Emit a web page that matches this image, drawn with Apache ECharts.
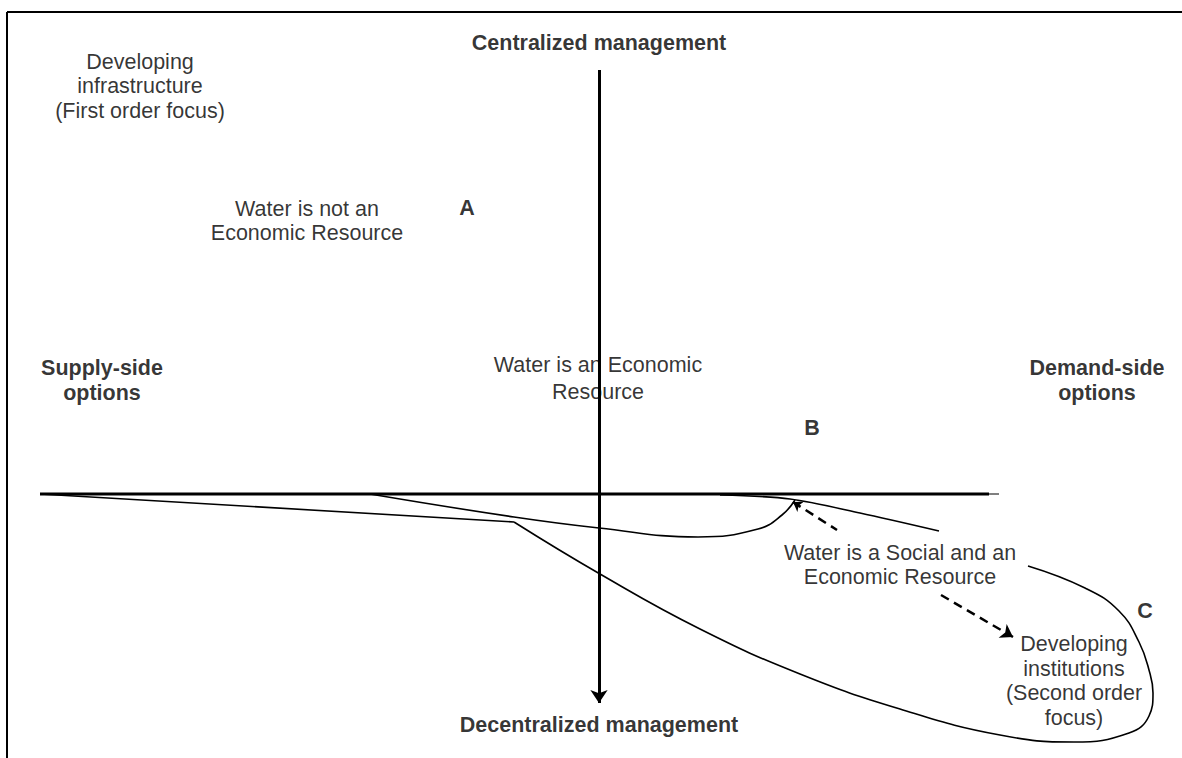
<!DOCTYPE html>
<html>
<head>
<meta charset="utf-8">
<style>
  html, body { margin: 0; padding: 0; background: #fff; }
  #chart { width: 1182px; height: 758px; }
</style>
<script src="https://cdn.jsdelivr.net/npm/echarts@6/dist/echarts.min.js"></script>
</head>
<body>
<div id="chart"></div>
<script>
// diagram drawn on a pixel-like value grid (x 0..1182, y 0..758 top-down)
var frameTop = [[7, 12], [1182, 12]];
var frameLeft = [[7, 12], [7, 758]];
var hAxisThick = [[40, 494], [989, 494]];
var hAxisThin = [[40, 494], [999, 494]];
var vAxis = [[599, 70], [599, 703]];
var straightArm = [[40, 494], [514, 522]];
var loopB = [[370, 494], [514, 517], [599, 528], [698, 537], [758, 529], [782, 515], [795, 500]];
// loop C is broken where the text sits
var loopCLower = [[514, 522], [600, 574], [700, 629], [800, 674], [900, 709], [1000, 735], [1074, 742],
  [1129, 733], [1149, 716], [1153, 693], [1149, 670], [1139, 642], [1119, 611], [1085, 588], [1028, 566]];
var loopCUpper = [[939, 531], [860, 513], [790, 499], [720, 495]];
// dashed arrow, also broken by the text
var dashHead = [[793, 502], [837, 530]];
var dashTail = [[941, 595], [1013, 637]];

// plain labels
var plainTexts = [
  "Developing\ninfrastructure\n(First order focus)",
  "Water is not an\nEconomic Resource",
  "Developing\ninstitutions\n(Second order\nfocus)",
  "Water is a Social and an\nEconomic Resource"
];
var plainPos = [[140, 86], [307, 221], [1074, 681], [900, 565]];

// bold labels
var boldTexts = ["Centralized management", "Decentralized management", "Supply-side\noptions",
  "Demand-side\noptions", "A", "B", "C"];
var boldPos = [[599, 43], [599, 725], [102, 380], [1097, 380], [467, 208], [812, 428], [1145, 611]];

// label sitting under the vertical axis
var midText = "Water is an Economic\nResource";
var midPos = [598, 378];

var FONT = "'Liberation Sans', Arial, sans-serif";

function path(data, width, smooth, lineType) {
  return {
    type: "line",
    data: data,
    showSymbol: false,
    symbol: "none",
    smooth: smooth || false,
    clip: false,
    silent: true,
    z: 3,
    lineStyle: { color: "#000", width: width, type: lineType || "solid" }
  };
}

function arrow(coords, width, symbols, sizes, lineType) {
  return {
    type: "lines",
    coordinateSystem: "cartesian2d",
    silent: true,
    z: 4,
    symbol: symbols,
    symbolSize: sizes,
    lineStyle: { color: "#000", width: width, type: lineType || "solid", opacity: 1 },
    data: [{ coords: coords }]
  };
}

function textSeries(texts, pos, style, z) {
  return {
    type: "scatter",
    symbolSize: 0,
    silent: true,
    clip: false,
    z: z,
    data: texts.map(function (t, i) {
      return {
        value: pos[i],
        label: Object.assign({
          show: true,
          position: "inside",
          formatter: t,
          color: "#000",
          textBorderWidth: 0,
          fontFamily: FONT,
          fontSize: 21.5,
          align: "center",
          verticalAlign: "middle"
        }, style)
      };
    })
  };
}

var chart = echarts.init(document.getElementById("chart"), null, { renderer: "svg" });

chart.setOption({
  animation: false,
  backgroundColor: "#fff",
  grid: { left: 0, right: 0, top: 0, bottom: 0 },
  xAxis: { type: "value", min: 0, max: 1182, show: false },
  yAxis: { type: "value", min: 0, max: 758, inverse: true, show: false },
  series: [
    textSeries([midText], [midPos], { lineHeight: 27 }, 1),
    path(frameTop, 2),
    path(frameLeft, 2),
    path(hAxisThin, 1),
    path(hAxisThick, 3),
    path(straightArm, 1.6),
    path(loopB, 1.6, 0.45),
    path(loopCLower, 1.6, 0.45),
    path(loopCUpper, 1.6, 0.3),
    arrow(vAxis, 3, ["none", "arrow"], [0, 13]),
    arrow(dashHead, 2.5, ["arrow", "none"], [9, 0], [9, 6]),
    arrow(dashTail, 2.5, ["none", "arrow"], [0, 12], [9, 6]),
    textSeries(plainTexts, plainPos, { lineHeight: 24.5 }, 9),
    textSeries(boldTexts, boldPos, { fontWeight: "bold", lineHeight: 25 }, 9)
  ]
});
</script>
</body>
</html>
